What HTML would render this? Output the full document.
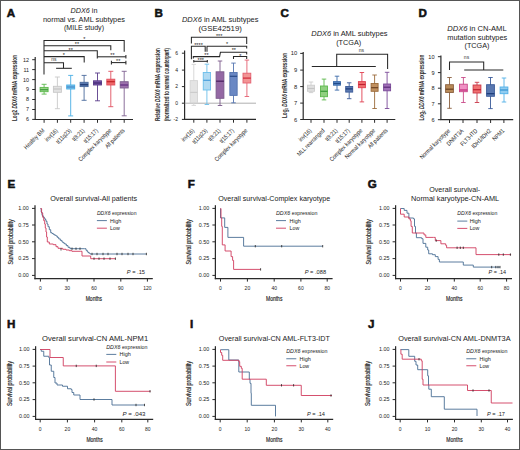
<!DOCTYPE html><html><head><meta charset="utf-8"><style>html,body{margin:0;padding:0;background:#fff;}svg{display:block;}text{font-family:"Liberation Sans", sans-serif;}</style></head><body>
<svg width="520" height="450" viewBox="0 0 520 450">
<rect x="0" y="0" width="520" height="450" fill="#fff"/>
<text x="6.7" y="17.0" font-size="11.6" text-anchor="start" font-weight="bold" font-style="normal" fill="#111" stroke="#111" stroke-width="0.55">A</text>
<text x="84" y="13.0" font-size="8.0" text-anchor="middle" fill="#222" textLength="26.9" lengthAdjust="spacingAndGlyphs"><tspan font-style="italic">DDX6</tspan> in</text>
<text x="84" y="21.8" font-size="8.0" text-anchor="middle" font-weight="normal" font-style="normal" fill="#222" textLength="82" lengthAdjust="spacingAndGlyphs" >normal vs. AML subtypes</text>
<text x="84" y="30.1" font-size="8.0" text-anchor="middle" font-weight="normal" font-style="normal" fill="#222" textLength="40" lengthAdjust="spacingAndGlyphs" >(MILE study)</text>
<line x1="35.2" y1="57" x2="35.2" y2="119.5" stroke="#2a2a2a" stroke-width="1.2"/>
<line x1="34.7" y1="119.5" x2="133" y2="119.5" stroke="#2a2a2a" stroke-width="1.2"/>
<line x1="32.2" y1="59.7" x2="35.2" y2="59.7" stroke="#2a2a2a" stroke-width="1"/>
<text x="29" y="61.6" font-size="5.4" text-anchor="end" font-weight="normal" font-style="normal" fill="#222" >12</text>
<line x1="32.2" y1="69.6" x2="35.2" y2="69.6" stroke="#2a2a2a" stroke-width="1"/>
<text x="29" y="71.5" font-size="5.4" text-anchor="end" font-weight="normal" font-style="normal" fill="#222" >11</text>
<line x1="32.2" y1="79.6" x2="35.2" y2="79.6" stroke="#2a2a2a" stroke-width="1"/>
<text x="29" y="81.5" font-size="5.4" text-anchor="end" font-weight="normal" font-style="normal" fill="#222" >10</text>
<line x1="32.2" y1="89.5" x2="35.2" y2="89.5" stroke="#2a2a2a" stroke-width="1"/>
<text x="29" y="91.4" font-size="5.4" text-anchor="end" font-weight="normal" font-style="normal" fill="#222" >9</text>
<line x1="32.2" y1="99.5" x2="35.2" y2="99.5" stroke="#2a2a2a" stroke-width="1"/>
<text x="29" y="101.4" font-size="5.4" text-anchor="end" font-weight="normal" font-style="normal" fill="#222" >8</text>
<line x1="32.2" y1="109.5" x2="35.2" y2="109.5" stroke="#2a2a2a" stroke-width="1"/>
<text x="29" y="111.4" font-size="5.4" text-anchor="end" font-weight="normal" font-style="normal" fill="#222" >7</text>
<line x1="32.2" y1="119.4" x2="35.2" y2="119.4" stroke="#2a2a2a" stroke-width="1"/>
<text x="29" y="121.30000000000001" font-size="5.4" text-anchor="end" font-weight="normal" font-style="normal" fill="#222" >6</text>
<text x="0" y="0" transform="translate(17.4,88) rotate(-90)" font-size="6.9" text-anchor="middle" font-weight="bold" fill="#2a2a2a" textLength="66" lengthAdjust="spacingAndGlyphs">Log2 <tspan font-style="italic">DDX6</tspan> mRNA expression</text>
<line x1="44.1" y1="119.5" x2="44.1" y2="122.8" stroke="#2a2a2a" stroke-width="1"/>
<line x1="57.4" y1="119.5" x2="57.4" y2="122.8" stroke="#2a2a2a" stroke-width="1"/>
<line x1="70.7" y1="119.5" x2="70.7" y2="122.8" stroke="#2a2a2a" stroke-width="1"/>
<line x1="84.1" y1="119.5" x2="84.1" y2="122.8" stroke="#2a2a2a" stroke-width="1"/>
<line x1="97.5" y1="119.5" x2="97.5" y2="122.8" stroke="#2a2a2a" stroke-width="1"/>
<line x1="110.8" y1="119.5" x2="110.8" y2="122.8" stroke="#2a2a2a" stroke-width="1"/>
<line x1="124.2" y1="119.5" x2="124.2" y2="122.8" stroke="#2a2a2a" stroke-width="1"/>
<text x="0" y="0" transform="translate(45.0,131.0) rotate(-45)" font-size="6.1" text-anchor="end" fill="#222" textLength="26.36" lengthAdjust="spacingAndGlyphs">Healthy BM</text>
<text x="0" y="0" transform="translate(58.3,131.0) rotate(-45)" font-size="6.1" text-anchor="end" fill="#222" textLength="15.59" lengthAdjust="spacingAndGlyphs">inv(16)</text>
<text x="0" y="0" transform="translate(71.60000000000001,131.0) rotate(-45)" font-size="6.1" text-anchor="end" fill="#222" textLength="18.61" lengthAdjust="spacingAndGlyphs">t(11q23)</text>
<text x="0" y="0" transform="translate(85.0,131.0) rotate(-45)" font-size="6.1" text-anchor="end" fill="#222" textLength="14.74" lengthAdjust="spacingAndGlyphs">t(8;21)</text>
<text x="0" y="0" transform="translate(98.4,131.0) rotate(-45)" font-size="6.1" text-anchor="end" fill="#222" textLength="17.57" lengthAdjust="spacingAndGlyphs">t(15;17)</text>
<text x="0" y="0" transform="translate(111.7,131.0) rotate(-45)" font-size="6.1" text-anchor="end" fill="#222" textLength="43.65" lengthAdjust="spacingAndGlyphs">Complex karyotype</text>
<text x="0" y="0" transform="translate(125.10000000000001,131.0) rotate(-45)" font-size="6.1" text-anchor="end" fill="#222" textLength="24.95" lengthAdjust="spacingAndGlyphs">All patients</text>
<line x1="44.1" y1="84.3" x2="44.1" y2="94.1" stroke="#5cb84c" stroke-width="0.9"/>
<line x1="41.6" y1="84.3" x2="46.6" y2="84.3" stroke="#5cb84c" stroke-width="0.9"/>
<line x1="41.6" y1="94.1" x2="46.6" y2="94.1" stroke="#5cb84c" stroke-width="0.9"/>
<rect x="40.1" y="87.4" width="8" height="4.299999999999997" fill="#98d488" stroke="#5cb84c" stroke-width="0.9"/>
<line x1="40.1" y1="89.7" x2="48.1" y2="89.7" stroke="#3a9a3a" stroke-width="1.2"/>
<line x1="57.4" y1="77" x2="57.4" y2="108.7" stroke="#c8c8c8" stroke-width="0.9"/>
<line x1="54.9" y1="77" x2="59.9" y2="77" stroke="#c8c8c8" stroke-width="0.9"/>
<line x1="54.9" y1="108.7" x2="59.9" y2="108.7" stroke="#c8c8c8" stroke-width="0.9"/>
<rect x="53.4" y="86.3" width="8" height="6.0" fill="#e2e2e2" stroke="#c8c8c8" stroke-width="0.9"/>
<line x1="53.4" y1="89" x2="61.4" y2="89" stroke="#c4c4c4" stroke-width="1.2"/>
<line x1="70.7" y1="75.4" x2="70.7" y2="115.9" stroke="#48aee4" stroke-width="0.9"/>
<line x1="68.2" y1="75.4" x2="73.2" y2="75.4" stroke="#48aee4" stroke-width="0.9"/>
<line x1="68.2" y1="115.9" x2="73.2" y2="115.9" stroke="#48aee4" stroke-width="0.9"/>
<rect x="66.7" y="85" width="8" height="4" fill="#80c4ec" stroke="#48aee4" stroke-width="0.9"/>
<line x1="66.7" y1="87" x2="74.7" y2="87" stroke="#3f86c8" stroke-width="1.2"/>
<line x1="84.1" y1="75.4" x2="84.1" y2="100.3" stroke="#4a6a9c" stroke-width="0.9"/>
<line x1="81.6" y1="75.4" x2="86.6" y2="75.4" stroke="#4a6a9c" stroke-width="0.9"/>
<line x1="81.6" y1="100.3" x2="86.6" y2="100.3" stroke="#4a6a9c" stroke-width="0.9"/>
<rect x="80.1" y="82.3" width="8" height="4.299999999999997" fill="#5878b0" stroke="#4a6a9c" stroke-width="0.9"/>
<line x1="80.1" y1="84.7" x2="88.1" y2="84.7" stroke="#203a72" stroke-width="1.2"/>
<line x1="97.5" y1="73" x2="97.5" y2="100.8" stroke="#5a3c8a" stroke-width="0.9"/>
<line x1="95.0" y1="73" x2="100.0" y2="73" stroke="#5a3c8a" stroke-width="0.9"/>
<line x1="95.0" y1="100.8" x2="100.0" y2="100.8" stroke="#5a3c8a" stroke-width="0.9"/>
<rect x="93.5" y="80.8" width="8" height="4.200000000000003" fill="#7858a8" stroke="#5a3c8a" stroke-width="0.9"/>
<line x1="93.5" y1="83" x2="101.5" y2="83" stroke="#3e2670" stroke-width="1.2"/>
<line x1="110.8" y1="71.3" x2="110.8" y2="106.7" stroke="#e05060" stroke-width="0.9"/>
<line x1="108.3" y1="71.3" x2="113.3" y2="71.3" stroke="#e05060" stroke-width="0.9"/>
<line x1="108.3" y1="106.7" x2="113.3" y2="106.7" stroke="#e05060" stroke-width="0.9"/>
<rect x="106.8" y="79.2" width="8" height="5.799999999999997" fill="#f06868" stroke="#e05060" stroke-width="0.9"/>
<line x1="106.8" y1="81.7" x2="114.8" y2="81.7" stroke="#c02428" stroke-width="1.2"/>
<line x1="124.2" y1="71.3" x2="124.2" y2="115.8" stroke="#7e6090" stroke-width="0.9"/>
<line x1="121.7" y1="71.3" x2="126.7" y2="71.3" stroke="#7e6090" stroke-width="0.9"/>
<line x1="121.7" y1="115.8" x2="126.7" y2="115.8" stroke="#7e6090" stroke-width="0.9"/>
<rect x="120.2" y="81.7" width="8" height="6.299999999999997" fill="#9c70ac" stroke="#7e6090" stroke-width="0.9"/>
<line x1="120.2" y1="85" x2="128.2" y2="85" stroke="#5e2a80" stroke-width="1.2"/>
<line x1="44" y1="40" x2="44" y2="74.4" stroke="#282828" stroke-width="1.05"/>
<polyline points="44.00,40.50 124.20,40.50 124.20,51.80" fill="none" stroke="#282828" stroke-width="1.05"/>
<polyline points="44.00,45.70 110.80,45.70 110.80,50.30" fill="none" stroke="#282828" stroke-width="1.05"/>
<polyline points="44.00,50.80 97.30,50.80 97.30,58.50" fill="none" stroke="#282828" stroke-width="1.05"/>
<polyline points="44.00,56.60 84.20,56.60 84.20,62.40" fill="none" stroke="#282828" stroke-width="1.05"/>
<polyline points="44.00,62.70 63.50,62.70 63.50,68.30" fill="none" stroke="#282828" stroke-width="1.05"/>
<line x1="56.1" y1="68.3" x2="71.8" y2="68.3" stroke="#282828" stroke-width="1.05"/>
<line x1="97.3" y1="56.8" x2="125.9" y2="56.8" stroke="#282828" stroke-width="1.05"/>
<line x1="125.9" y1="55" x2="125.9" y2="58.6" stroke="#282828" stroke-width="1.05"/>
<line x1="111.4" y1="62.6" x2="125.9" y2="62.6" stroke="#282828" stroke-width="1.05"/>
<line x1="111.4" y1="60.8" x2="111.4" y2="64.4" stroke="#282828" stroke-width="1.05"/>
<line x1="125.9" y1="60.8" x2="125.9" y2="64.4" stroke="#282828" stroke-width="1.05"/>
<text x="84.2" y="40.99" font-size="5.5" text-anchor="middle" font-weight="normal" font-style="normal" fill="#222" >*</text>
<text x="77" y="46.29" font-size="5.5" text-anchor="middle" font-weight="normal" font-style="normal" fill="#222" >**</text>
<text x="70.7" y="51.59" font-size="5.5" text-anchor="middle" font-weight="normal" font-style="normal" fill="#222" >**</text>
<text x="63.8" y="57.19" font-size="5.5" text-anchor="middle" font-weight="normal" font-style="normal" fill="#222" >*</text>
<text x="53.9" y="61.1" font-size="5" text-anchor="middle" font-weight="normal" font-style="normal" fill="#333" >ns</text>
<text x="112.4" y="57.19" font-size="5.5" text-anchor="middle" font-weight="normal" font-style="normal" fill="#222" >**</text>
<text x="118.2" y="62.99" font-size="5.5" text-anchor="middle" font-weight="normal" font-style="normal" fill="#222" >**</text>
<text x="154.6" y="17.0" font-size="11.6" text-anchor="start" font-weight="bold" font-style="normal" fill="#111" stroke="#111" stroke-width="0.55">B</text>
<text x="181.9" y="21.8" font-size="8.0" fill="#222" textLength="76.6" lengthAdjust="spacingAndGlyphs"><tspan font-style="italic">DDX6</tspan> in AML subtypes</text>
<text x="220.2" y="30.6" font-size="8.0" text-anchor="middle" font-weight="normal" font-style="normal" fill="#222" textLength="43.4" lengthAdjust="spacingAndGlyphs" >(GSE42519)</text>
<line x1="184.6" y1="50.4" x2="184.6" y2="119.4" stroke="#2a2a2a" stroke-width="1.2"/>
<line x1="184.1" y1="119.4" x2="256" y2="119.4" stroke="#2a2a2a" stroke-width="1.2"/>
<line x1="184.6" y1="103.2" x2="256" y2="103.2" stroke="#9a9a9a" stroke-width="0.8"/>
<line x1="181.9" y1="53.2" x2="184.6" y2="53.2" stroke="#2a2a2a" stroke-width="1"/>
<text x="178" y="55.0" font-size="5" text-anchor="end" font-weight="normal" font-style="normal" fill="#222" >6</text>
<line x1="181.9" y1="70.1" x2="184.6" y2="70.1" stroke="#2a2a2a" stroke-width="1"/>
<text x="178" y="71.89999999999999" font-size="5" text-anchor="end" font-weight="normal" font-style="normal" fill="#222" >4</text>
<line x1="181.9" y1="86.6" x2="184.6" y2="86.6" stroke="#2a2a2a" stroke-width="1"/>
<text x="178" y="88.39999999999999" font-size="5" text-anchor="end" font-weight="normal" font-style="normal" fill="#222" >2</text>
<line x1="181.9" y1="103.2" x2="184.6" y2="103.2" stroke="#2a2a2a" stroke-width="1"/>
<text x="178" y="105.0" font-size="5" text-anchor="end" font-weight="normal" font-style="normal" fill="#222" >0</text>
<line x1="181.9" y1="119.4" x2="184.6" y2="119.4" stroke="#2a2a2a" stroke-width="1"/>
<text x="178" y="121.2" font-size="5" text-anchor="end" font-weight="normal" font-style="normal" fill="#222" >-2</text>
<text x="0" y="0" transform="translate(159.6,84.6) rotate(-90)" font-size="6.7" text-anchor="middle" font-weight="bold" fill="#2a2a2a" textLength="73" lengthAdjust="spacingAndGlyphs">Relative <tspan font-style="italic">DDX6</tspan> mRNA expression</text>
<text x="0" y="0" transform="translate(169.4,84.6) rotate(-90)" font-size="6.7" text-anchor="middle" font-weight="bold" fill="#2a2a2a" textLength="73" lengthAdjust="spacingAndGlyphs">(normalized to normal counterpart)</text>
<line x1="193.8" y1="119.4" x2="193.8" y2="122.7" stroke="#2a2a2a" stroke-width="1"/>
<line x1="206.9" y1="119.4" x2="206.9" y2="122.7" stroke="#2a2a2a" stroke-width="1"/>
<line x1="220" y1="119.4" x2="220" y2="122.7" stroke="#2a2a2a" stroke-width="1"/>
<line x1="233.5" y1="119.4" x2="233.5" y2="122.7" stroke="#2a2a2a" stroke-width="1"/>
<line x1="246.9" y1="119.4" x2="246.9" y2="122.7" stroke="#2a2a2a" stroke-width="1"/>
<text x="0" y="0" transform="translate(194.70000000000002,131.0) rotate(-45)" font-size="6.1" text-anchor="end" fill="#222" textLength="15.59" lengthAdjust="spacingAndGlyphs">inv(16)</text>
<text x="0" y="0" transform="translate(207.8,131.0) rotate(-45)" font-size="6.1" text-anchor="end" fill="#222" textLength="18.61" lengthAdjust="spacingAndGlyphs">t(11q23)</text>
<text x="0" y="0" transform="translate(220.9,131.0) rotate(-45)" font-size="6.1" text-anchor="end" fill="#222" textLength="14.74" lengthAdjust="spacingAndGlyphs">t(8;21)</text>
<text x="0" y="0" transform="translate(234.4,131.0) rotate(-45)" font-size="6.1" text-anchor="end" fill="#222" textLength="17.57" lengthAdjust="spacingAndGlyphs">t(15;17)</text>
<text x="0" y="0" transform="translate(247.8,131.0) rotate(-45)" font-size="6.1" text-anchor="end" fill="#222" textLength="43.65" lengthAdjust="spacingAndGlyphs">Complex karyotype</text>
<line x1="193.8" y1="64.4" x2="193.8" y2="105.4" stroke="#d4d4d4" stroke-width="0.9"/>
<line x1="191.55" y1="64.4" x2="196.05" y2="64.4" stroke="#d4d4d4" stroke-width="0.9"/>
<line x1="191.55" y1="105.4" x2="196.05" y2="105.4" stroke="#d4d4d4" stroke-width="0.9"/>
<rect x="190.15" y="80.6" width="7.3" height="22.200000000000003" fill="#e4e4e4" stroke="#d4d4d4" stroke-width="0.9"/>
<line x1="190.15" y1="92.4" x2="197.45000000000002" y2="92.4" stroke="#cccccc" stroke-width="1.2"/>
<line x1="206.9" y1="64.2" x2="206.9" y2="104.5" stroke="#6cbeea" stroke-width="0.9"/>
<line x1="204.65" y1="64.2" x2="209.15" y2="64.2" stroke="#6cbeea" stroke-width="0.9"/>
<line x1="204.65" y1="104.5" x2="209.15" y2="104.5" stroke="#6cbeea" stroke-width="0.9"/>
<rect x="203.25" y="72.5" width="7.3" height="17.5" fill="#b0daf2" stroke="#6cbeea" stroke-width="0.9"/>
<line x1="203.25" y1="80.3" x2="210.55" y2="80.3" stroke="#4aa0dc" stroke-width="1.2"/>
<line x1="220" y1="61" x2="220" y2="105.5" stroke="#7a5a8a" stroke-width="0.9"/>
<line x1="217.75" y1="61" x2="222.25" y2="61" stroke="#7a5a8a" stroke-width="0.9"/>
<line x1="217.75" y1="105.5" x2="222.25" y2="105.5" stroke="#7a5a8a" stroke-width="0.9"/>
<rect x="216.1" y="71.8" width="7.8" height="26.5" fill="#9468a4" stroke="#7a5a8a" stroke-width="0.9"/>
<line x1="216.1" y1="81.2" x2="223.9" y2="81.2" stroke="#4a2060" stroke-width="1.2"/>
<line x1="233.5" y1="63.1" x2="233.5" y2="102.8" stroke="#5474b0" stroke-width="0.9"/>
<line x1="231.25" y1="63.1" x2="235.75" y2="63.1" stroke="#5474b0" stroke-width="0.9"/>
<line x1="231.25" y1="102.8" x2="235.75" y2="102.8" stroke="#5474b0" stroke-width="0.9"/>
<rect x="229.85" y="72.5" width="7.3" height="22.900000000000006" fill="#6a88c4" stroke="#5474b0" stroke-width="0.9"/>
<line x1="229.85" y1="76.3" x2="237.15" y2="76.3" stroke="#2a4a88" stroke-width="1.2"/>
<line x1="246.9" y1="60.1" x2="246.9" y2="96.5" stroke="#e46070" stroke-width="0.9"/>
<line x1="244.65" y1="60.1" x2="249.15" y2="60.1" stroke="#e46070" stroke-width="0.9"/>
<line x1="244.65" y1="96.5" x2="249.15" y2="96.5" stroke="#e46070" stroke-width="0.9"/>
<rect x="243.0" y="73.2" width="7.8" height="9.799999999999997" fill="#f29494" stroke="#e46070" stroke-width="0.9"/>
<line x1="243.0" y1="78.1" x2="250.8" y2="78.1" stroke="#d02838" stroke-width="1.2"/>
<polyline points="246.70,44.00 246.70,37.30 191.40,37.30 191.40,43.50" fill="none" stroke="#282828" stroke-width="1.05"/>
<polyline points="191.40,59.30 191.40,46.20 205.20,46.20 205.20,51.80" fill="none" stroke="#282828" stroke-width="1.05"/>
<polyline points="207.00,51.80 207.00,46.20 246.70,46.20 246.70,48.50" fill="none" stroke="#282828" stroke-width="1.05"/>
<polyline points="193.30,58.60 193.30,56.60 219.60,56.60 220.40,52.30 246.70,52.30 246.70,54.50" fill="none" stroke="#282828" stroke-width="1.05"/>
<polyline points="233.50,59.00 233.50,56.50 246.70,56.50 246.70,59.00" fill="none" stroke="#282828" stroke-width="1.05"/>
<line x1="193.8" y1="61.3" x2="207.3" y2="61.3" stroke="#282828" stroke-width="1.05"/>
<line x1="193.8" y1="60" x2="193.8" y2="62.6" stroke="#282828" stroke-width="1.05"/>
<line x1="207.3" y1="60" x2="207.3" y2="62.6" stroke="#282828" stroke-width="1.05"/>
<text x="219.2" y="37.79" font-size="5.5" text-anchor="middle" font-weight="normal" font-style="normal" fill="#222" >***</text>
<text x="198.5" y="46.59" font-size="5.5" text-anchor="middle" font-weight="normal" font-style="normal" fill="#222" >****</text>
<text x="227" y="46.49" font-size="5.5" text-anchor="middle" font-weight="normal" font-style="normal" fill="#222" >*</text>
<text x="206.5" y="57.49" font-size="5.5" text-anchor="middle" font-weight="normal" font-style="normal" fill="#222" >**</text>
<text x="233.8" y="52.49" font-size="5.5" text-anchor="middle" font-weight="normal" font-style="normal" fill="#222" >**</text>
<text x="240.4" y="57.69" font-size="5.5" text-anchor="middle" font-weight="normal" font-style="normal" fill="#222" >*</text>
<text x="200.8" y="62.39" font-size="5.5" text-anchor="middle" font-weight="normal" font-style="normal" fill="#222" >***</text>
<text x="280.6" y="17.0" font-size="11.6" text-anchor="start" font-weight="bold" font-style="normal" fill="#111" stroke="#111" stroke-width="0.55">C</text>
<text x="311.3" y="36.2" font-size="8.0" fill="#222" textLength="76.2" lengthAdjust="spacingAndGlyphs"><tspan font-style="italic">DDX6</tspan> in AML subtypes</text>
<text x="348.7" y="44.9" font-size="8.0" text-anchor="middle" font-weight="normal" font-style="normal" fill="#222" textLength="25" lengthAdjust="spacingAndGlyphs" >(TCGA)</text>
<line x1="303.2" y1="52" x2="303.2" y2="119.5" stroke="#2a2a2a" stroke-width="1.2"/>
<line x1="302.7" y1="119.5" x2="395.3" y2="119.5" stroke="#2a2a2a" stroke-width="1.2"/>
<line x1="300.2" y1="53.4" x2="303.2" y2="53.4" stroke="#2a2a2a" stroke-width="1"/>
<text x="297.3" y="55.4" font-size="5.8" text-anchor="end" font-weight="normal" font-style="normal" fill="#222" >10</text>
<line x1="300.2" y1="70.1" x2="303.2" y2="70.1" stroke="#2a2a2a" stroke-width="1"/>
<text x="297.3" y="72.1" font-size="5.8" text-anchor="end" font-weight="normal" font-style="normal" fill="#222" >9</text>
<line x1="300.2" y1="86.6" x2="303.2" y2="86.6" stroke="#2a2a2a" stroke-width="1"/>
<text x="297.3" y="88.6" font-size="5.8" text-anchor="end" font-weight="normal" font-style="normal" fill="#222" >8</text>
<line x1="300.2" y1="103.1" x2="303.2" y2="103.1" stroke="#2a2a2a" stroke-width="1"/>
<text x="297.3" y="105.1" font-size="5.8" text-anchor="end" font-weight="normal" font-style="normal" fill="#222" >7</text>
<line x1="300.2" y1="119.5" x2="303.2" y2="119.5" stroke="#2a2a2a" stroke-width="1"/>
<text x="297.3" y="121.5" font-size="5.8" text-anchor="end" font-weight="normal" font-style="normal" fill="#222" >6</text>
<text x="0" y="0" transform="translate(286.6,85.5) rotate(-90)" font-size="6.9" text-anchor="middle" font-weight="bold" fill="#2a2a2a" textLength="65" lengthAdjust="spacingAndGlyphs">Log<tspan font-size="4" dy="1.2">2</tspan><tspan dy="-1.2"> </tspan><tspan font-style="italic">DDX6</tspan> mRNA expression</text>
<line x1="311" y1="119.5" x2="311" y2="122.8" stroke="#2a2a2a" stroke-width="1"/>
<line x1="324" y1="119.5" x2="324" y2="122.8" stroke="#2a2a2a" stroke-width="1"/>
<line x1="337" y1="119.5" x2="337" y2="122.8" stroke="#2a2a2a" stroke-width="1"/>
<line x1="349.2" y1="119.5" x2="349.2" y2="122.8" stroke="#2a2a2a" stroke-width="1"/>
<line x1="361.9" y1="119.5" x2="361.9" y2="122.8" stroke="#2a2a2a" stroke-width="1"/>
<line x1="374.6" y1="119.5" x2="374.6" y2="122.8" stroke="#2a2a2a" stroke-width="1"/>
<line x1="387.1" y1="119.5" x2="387.1" y2="122.8" stroke="#2a2a2a" stroke-width="1"/>
<text x="0" y="0" transform="translate(311.9,131.0) rotate(-45)" font-size="6.1" text-anchor="end" fill="#222" textLength="15.59" lengthAdjust="spacingAndGlyphs">inv(16)</text>
<text x="0" y="0" transform="translate(324.9,131.0) rotate(-45)" font-size="6.1" text-anchor="end" fill="#222" textLength="36.1" lengthAdjust="spacingAndGlyphs">MLL rearranged</text>
<text x="0" y="0" transform="translate(337.9,131.0) rotate(-45)" font-size="6.1" text-anchor="end" fill="#222" textLength="14.74" lengthAdjust="spacingAndGlyphs">t(8;21)</text>
<text x="0" y="0" transform="translate(350.09999999999997,131.0) rotate(-45)" font-size="6.1" text-anchor="end" fill="#222" textLength="17.57" lengthAdjust="spacingAndGlyphs">t(15;17)</text>
<text x="0" y="0" transform="translate(362.79999999999995,131.0) rotate(-45)" font-size="6.1" text-anchor="end" fill="#222" textLength="43.65" lengthAdjust="spacingAndGlyphs">Complex karyotype</text>
<text x="0" y="0" transform="translate(375.5,131.0) rotate(-45)" font-size="6.1" text-anchor="end" fill="#222" textLength="39.96" lengthAdjust="spacingAndGlyphs">Normal karyotype</text>
<text x="0" y="0" transform="translate(388.0,131.0) rotate(-45)" font-size="6.1" text-anchor="end" fill="#222" textLength="24.95" lengthAdjust="spacingAndGlyphs">All patients</text>
<line x1="311" y1="82" x2="311" y2="92.6" stroke="#cdcdcd" stroke-width="0.9"/>
<line x1="308.75" y1="82" x2="313.25" y2="82" stroke="#cdcdcd" stroke-width="0.9"/>
<line x1="308.75" y1="92.6" x2="313.25" y2="92.6" stroke="#cdcdcd" stroke-width="0.9"/>
<rect x="307.5" y="85.2" width="7" height="6.099999999999994" fill="#e0e0e0" stroke="#cdcdcd" stroke-width="0.9"/>
<line x1="307.5" y1="88.5" x2="314.5" y2="88.5" stroke="#c4c4c4" stroke-width="1.2"/>
<line x1="324" y1="79.1" x2="324" y2="99.9" stroke="#5cb84c" stroke-width="0.9"/>
<line x1="321.75" y1="79.1" x2="326.25" y2="79.1" stroke="#5cb84c" stroke-width="0.9"/>
<line x1="321.75" y1="99.9" x2="326.25" y2="99.9" stroke="#5cb84c" stroke-width="0.9"/>
<rect x="320.5" y="86" width="7" height="10.700000000000003" fill="#90d080" stroke="#5cb84c" stroke-width="0.9"/>
<line x1="320.5" y1="91.3" x2="327.5" y2="91.3" stroke="#3a9a3a" stroke-width="1.2"/>
<line x1="337" y1="76.2" x2="337" y2="90.1" stroke="#3a6aa8" stroke-width="0.9"/>
<line x1="334.75" y1="76.2" x2="339.25" y2="76.2" stroke="#3a6aa8" stroke-width="0.9"/>
<line x1="334.75" y1="90.1" x2="339.25" y2="90.1" stroke="#3a6aa8" stroke-width="0.9"/>
<rect x="333.5" y="81.6" width="7" height="3.6000000000000085" fill="#5a88c8" stroke="#3a6aa8" stroke-width="0.9"/>
<line x1="333.5" y1="83.5" x2="340.5" y2="83.5" stroke="#204a88" stroke-width="1.2"/>
<line x1="349.2" y1="82.8" x2="349.2" y2="98.7" stroke="#3a5a98" stroke-width="0.9"/>
<line x1="346.95" y1="82.8" x2="351.45" y2="82.8" stroke="#3a5a98" stroke-width="0.9"/>
<line x1="346.95" y1="98.7" x2="351.45" y2="98.7" stroke="#3a5a98" stroke-width="0.9"/>
<rect x="345.7" y="86.5" width="7" height="5.599999999999994" fill="#5a78b0" stroke="#3a5a98" stroke-width="0.9"/>
<line x1="345.7" y1="88.9" x2="352.7" y2="88.9" stroke="#1a3a78" stroke-width="1.2"/>
<line x1="361.9" y1="72.5" x2="361.9" y2="101.9" stroke="#e04050" stroke-width="0.9"/>
<line x1="359.65" y1="72.5" x2="364.15" y2="72.5" stroke="#e04050" stroke-width="0.9"/>
<line x1="359.65" y1="101.9" x2="364.15" y2="101.9" stroke="#e04050" stroke-width="0.9"/>
<rect x="358.4" y="81.6" width="7" height="6.1000000000000085" fill="#f07070" stroke="#e04050" stroke-width="0.9"/>
<line x1="358.4" y1="84.5" x2="365.4" y2="84.5" stroke="#c02030" stroke-width="1.2"/>
<line x1="374.6" y1="75" x2="374.6" y2="108.5" stroke="#9a6a3a" stroke-width="0.9"/>
<line x1="372.35" y1="75" x2="376.85" y2="75" stroke="#9a6a3a" stroke-width="0.9"/>
<line x1="372.35" y1="108.5" x2="376.85" y2="108.5" stroke="#9a6a3a" stroke-width="0.9"/>
<rect x="371.1" y="83.5" width="7" height="7.799999999999997" fill="#c09060" stroke="#9a6a3a" stroke-width="0.9"/>
<line x1="371.1" y1="87.7" x2="378.1" y2="87.7" stroke="#6a4020" stroke-width="1.2"/>
<line x1="387.1" y1="72.3" x2="387.1" y2="108.5" stroke="#7a4a98" stroke-width="0.9"/>
<line x1="384.85" y1="72.3" x2="389.35" y2="72.3" stroke="#7a4a98" stroke-width="0.9"/>
<line x1="384.85" y1="108.5" x2="389.35" y2="108.5" stroke="#7a4a98" stroke-width="0.9"/>
<rect x="383.6" y="84" width="7" height="6.799999999999997" fill="#a070b8" stroke="#7a4a98" stroke-width="0.9"/>
<line x1="383.6" y1="87.2" x2="390.6" y2="87.2" stroke="#5a2a78" stroke-width="1.2"/>
<polyline points="336.70,66.50 336.70,54.20 387.60,54.20 387.60,68.90" fill="none" stroke="#282828" stroke-width="1.05"/>
<line x1="311.8" y1="66.5" x2="375.8" y2="66.5" stroke="#282828" stroke-width="1.05"/>
<text x="361.3" y="51.6" font-size="5" text-anchor="middle" font-weight="normal" font-style="normal" fill="#333" >ns</text>
<text x="418.5" y="17.2" font-size="11.6" text-anchor="start" font-weight="bold" font-style="normal" fill="#111" stroke="#111" stroke-width="0.55">D</text>
<text x="447.3" y="31.1" font-size="8.0" fill="#222" textLength="59.3" lengthAdjust="spacingAndGlyphs"><tspan font-style="italic">DDX6</tspan> in CN-AML</text>
<text x="477.3" y="39.6" font-size="8.0" text-anchor="middle" font-weight="normal" font-style="normal" fill="#222" textLength="60" lengthAdjust="spacingAndGlyphs" >mutation subtypes</text>
<text x="477" y="47.9" font-size="8.0" text-anchor="middle" font-weight="normal" font-style="normal" fill="#222" textLength="25" lengthAdjust="spacingAndGlyphs" >(TCGA)</text>
<line x1="440.9" y1="55.5" x2="440.9" y2="119.7" stroke="#2a2a2a" stroke-width="1.2"/>
<line x1="440.4" y1="119.7" x2="513.2" y2="119.7" stroke="#2a2a2a" stroke-width="1.2"/>
<line x1="437.9" y1="56.7" x2="440.9" y2="56.7" stroke="#2a2a2a" stroke-width="1"/>
<text x="434.5" y="58.7" font-size="5.6" text-anchor="end" font-weight="normal" font-style="normal" fill="#222" >10</text>
<line x1="437.9" y1="72.6" x2="440.9" y2="72.6" stroke="#2a2a2a" stroke-width="1"/>
<text x="434.5" y="74.6" font-size="5.6" text-anchor="end" font-weight="normal" font-style="normal" fill="#222" >9</text>
<line x1="437.9" y1="88.2" x2="440.9" y2="88.2" stroke="#2a2a2a" stroke-width="1"/>
<text x="434.5" y="90.2" font-size="5.6" text-anchor="end" font-weight="normal" font-style="normal" fill="#222" >8</text>
<line x1="437.9" y1="103.8" x2="440.9" y2="103.8" stroke="#2a2a2a" stroke-width="1"/>
<text x="434.5" y="105.8" font-size="5.6" text-anchor="end" font-weight="normal" font-style="normal" fill="#222" >7</text>
<line x1="437.9" y1="119.7" x2="440.9" y2="119.7" stroke="#2a2a2a" stroke-width="1"/>
<text x="434.5" y="121.7" font-size="5.6" text-anchor="end" font-weight="normal" font-style="normal" fill="#222" >6</text>
<text x="0" y="0" transform="translate(423.6,87.6) rotate(-90)" font-size="6.9" text-anchor="middle" font-weight="bold" fill="#2a2a2a" textLength="66" lengthAdjust="spacingAndGlyphs">Log<tspan font-size="4" dy="1.2">2</tspan><tspan dy="-1.2"> </tspan><tspan font-style="italic">DDX6</tspan> mRNA expression</text>
<line x1="449.5" y1="119.7" x2="449.5" y2="123" stroke="#2a2a2a" stroke-width="1"/>
<line x1="463" y1="119.7" x2="463" y2="123" stroke="#2a2a2a" stroke-width="1"/>
<line x1="477" y1="119.7" x2="477" y2="123" stroke="#2a2a2a" stroke-width="1"/>
<line x1="490.6" y1="119.7" x2="490.6" y2="123" stroke="#2a2a2a" stroke-width="1"/>
<line x1="503.9" y1="119.7" x2="503.9" y2="123" stroke="#2a2a2a" stroke-width="1"/>
<text x="0" y="0" transform="translate(450.4,131.3) rotate(-45)" font-size="6.1" text-anchor="end" fill="#222" textLength="39.96" lengthAdjust="spacingAndGlyphs">Normal karyotype</text>
<text x="0" y="0" transform="translate(463.9,131.3) rotate(-45)" font-size="6.1" text-anchor="end" fill="#222" textLength="20.97" lengthAdjust="spacingAndGlyphs">DNMT3A</text>
<text x="0" y="0" transform="translate(477.9,131.3) rotate(-45)" font-size="6.1" text-anchor="end" fill="#222" textLength="21.44" lengthAdjust="spacingAndGlyphs">FLT3-ITD</text>
<text x="0" y="0" transform="translate(491.5,131.3) rotate(-45)" font-size="6.1" text-anchor="end" fill="#222" textLength="24.66" lengthAdjust="spacingAndGlyphs">IDH1/IDH2</text>
<text x="0" y="0" transform="translate(504.79999999999995,131.3) rotate(-45)" font-size="6.1" text-anchor="end" fill="#222" textLength="14.17" lengthAdjust="spacingAndGlyphs">NPM1</text>
<line x1="449.5" y1="77.5" x2="449.5" y2="108.3" stroke="#8a6040" stroke-width="0.9"/>
<line x1="447.25" y1="77.5" x2="451.75" y2="77.5" stroke="#8a6040" stroke-width="0.9"/>
<line x1="447.25" y1="108.3" x2="451.75" y2="108.3" stroke="#8a6040" stroke-width="0.9"/>
<rect x="445.6" y="84.7" width="7.8" height="7.799999999999997" fill="#b88a58" stroke="#8a6040" stroke-width="0.9"/>
<line x1="445.6" y1="89.2" x2="453.4" y2="89.2" stroke="#6a4020" stroke-width="1.2"/>
<line x1="463.4" y1="77.5" x2="463.4" y2="102.5" stroke="#c84888" stroke-width="0.9"/>
<line x1="461.15" y1="77.5" x2="465.65" y2="77.5" stroke="#c84888" stroke-width="0.9"/>
<line x1="461.15" y1="102.5" x2="465.65" y2="102.5" stroke="#c84888" stroke-width="0.9"/>
<rect x="459.5" y="84.2" width="7.8" height="7.5" fill="#f090c4" stroke="#c84888" stroke-width="0.9"/>
<line x1="459.5" y1="90" x2="467.29999999999995" y2="90" stroke="#c02878" stroke-width="1.2"/>
<line x1="477" y1="82.3" x2="477" y2="102.5" stroke="#c83848" stroke-width="0.9"/>
<line x1="474.75" y1="82.3" x2="479.25" y2="82.3" stroke="#c83848" stroke-width="0.9"/>
<line x1="474.75" y1="102.5" x2="479.25" y2="102.5" stroke="#c83848" stroke-width="0.9"/>
<rect x="473.1" y="85" width="7.8" height="8" fill="#f07272" stroke="#c83848" stroke-width="0.9"/>
<line x1="473.1" y1="89.7" x2="480.9" y2="89.7" stroke="#c02030" stroke-width="1.2"/>
<line x1="490.5" y1="77.5" x2="490.5" y2="108.6" stroke="#3a5a98" stroke-width="0.9"/>
<line x1="488.25" y1="77.5" x2="492.75" y2="77.5" stroke="#3a5a98" stroke-width="0.9"/>
<line x1="488.25" y1="108.6" x2="492.75" y2="108.6" stroke="#3a5a98" stroke-width="0.9"/>
<rect x="486.6" y="84.7" width="7.8" height="11.599999999999994" fill="#5a78b0" stroke="#3a5a98" stroke-width="0.9"/>
<line x1="486.6" y1="93.7" x2="494.4" y2="93.7" stroke="#1a3a78" stroke-width="1.2"/>
<line x1="504" y1="78" x2="504" y2="102" stroke="#50b0e8" stroke-width="0.9"/>
<line x1="501.75" y1="78" x2="506.25" y2="78" stroke="#50b0e8" stroke-width="0.9"/>
<line x1="501.75" y1="102" x2="506.25" y2="102" stroke="#50b0e8" stroke-width="0.9"/>
<rect x="500.1" y="87" width="7.8" height="6.700000000000003" fill="#90ccf0" stroke="#50b0e8" stroke-width="0.9"/>
<line x1="500.1" y1="90" x2="507.9" y2="90" stroke="#3090d0" stroke-width="1.2"/>
<polyline points="449.50,70.00 449.50,61.90 483.70,61.90 483.70,70.00" fill="none" stroke="#282828" stroke-width="1.05"/>
<line x1="464.2" y1="70" x2="503.3" y2="70" stroke="#282828" stroke-width="1.05"/>
<text x="466.5" y="59.0" font-size="5" text-anchor="middle" font-weight="normal" font-style="normal" fill="#333" >ns</text>
<text x="7.6" y="187.5" font-size="11.6" text-anchor="start" font-weight="bold" font-style="normal" fill="#111" stroke="#111" stroke-width="0.55">E</text>
<text x="50.2" y="200.6" font-size="8.0" text-anchor="start" font-weight="normal" font-style="normal" fill="#222" textLength="86.8" lengthAdjust="spacingAndGlyphs" >Overall survival-All patients</text>
<line x1="35" y1="205.20000000000002" x2="35" y2="279.20000000000005" stroke="#2a2a2a" stroke-width="1.25"/>
<line x1="34.4" y1="278.6" x2="152.8" y2="278.6" stroke="#2a2a2a" stroke-width="1.25"/>
<line x1="32" y1="208.4" x2="35" y2="208.4" stroke="#2a2a2a" stroke-width="1"/>
<text x="28.8" y="210.20000000000002" font-size="5" text-anchor="end" font-weight="normal" font-style="normal" fill="#222" textLength="10.5" lengthAdjust="spacingAndGlyphs" >1.00</text>
<line x1="32" y1="225.0" x2="35" y2="225.0" stroke="#2a2a2a" stroke-width="1"/>
<text x="28.8" y="226.8" font-size="5" text-anchor="end" font-weight="normal" font-style="normal" fill="#222" textLength="10.5" lengthAdjust="spacingAndGlyphs" >0.75</text>
<line x1="32" y1="241.8" x2="35" y2="241.8" stroke="#2a2a2a" stroke-width="1"/>
<text x="28.8" y="243.60000000000002" font-size="5" text-anchor="end" font-weight="normal" font-style="normal" fill="#222" textLength="10.5" lengthAdjust="spacingAndGlyphs" >0.50</text>
<line x1="32" y1="258.6" x2="35" y2="258.6" stroke="#2a2a2a" stroke-width="1"/>
<text x="28.8" y="260.40000000000003" font-size="5" text-anchor="end" font-weight="normal" font-style="normal" fill="#222" textLength="10.5" lengthAdjust="spacingAndGlyphs" >0.25</text>
<line x1="32" y1="275.4" x2="35" y2="275.4" stroke="#2a2a2a" stroke-width="1"/>
<text x="28.8" y="277.2" font-size="5" text-anchor="end" font-weight="normal" font-style="normal" fill="#222" textLength="10.5" lengthAdjust="spacingAndGlyphs" >0.00</text>
<line x1="40.4" y1="278.6" x2="40.4" y2="281.6" stroke="#2a2a2a" stroke-width="1"/>
<text x="40.4" y="289.70000000000005" font-size="5" text-anchor="middle" font-weight="normal" font-style="normal" fill="#222" >0</text>
<line x1="67.2" y1="278.6" x2="67.2" y2="281.6" stroke="#2a2a2a" stroke-width="1"/>
<text x="67.2" y="289.70000000000005" font-size="5" text-anchor="middle" font-weight="normal" font-style="normal" fill="#222" >30</text>
<line x1="94" y1="278.6" x2="94" y2="281.6" stroke="#2a2a2a" stroke-width="1"/>
<text x="94" y="289.70000000000005" font-size="5" text-anchor="middle" font-weight="normal" font-style="normal" fill="#222" >60</text>
<line x1="120.8" y1="278.6" x2="120.8" y2="281.6" stroke="#2a2a2a" stroke-width="1"/>
<text x="120.8" y="289.70000000000005" font-size="5" text-anchor="middle" font-weight="normal" font-style="normal" fill="#222" >90</text>
<line x1="147.4" y1="278.6" x2="147.4" y2="281.6" stroke="#2a2a2a" stroke-width="1"/>
<text x="147.4" y="289.70000000000005" font-size="5" text-anchor="middle" font-weight="normal" font-style="normal" fill="#222" >120</text>
<text x="0" y="0" transform="translate(12.600000000000001,241.9) rotate(-90)" font-size="6.9" text-anchor="middle" font-weight="normal" fill="#1e1e1e" stroke="#1e1e1e" stroke-width="0.15" textLength="45" lengthAdjust="spacingAndGlyphs">Survival probability</text>
<text x="93.9" y="300.8" font-size="7.4" text-anchor="middle" font-weight="normal" font-style="normal" fill="#222" textLength="16.4" lengthAdjust="spacingAndGlyphs" stroke="#1e1e1e" stroke-width="0.18">Months</text>
<text x="96.9" y="214.7" font-size="5.6" fill="#222" textLength="39.6" lengthAdjust="spacingAndGlyphs"><tspan font-style="italic">DDX6</tspan> expression</text>
<line x1="96.9" y1="220.6" x2="106.9" y2="220.6" stroke="#4a6e94" stroke-width="0.9"/>
<text x="110.1" y="222.6" font-size="5.7" text-anchor="start" font-weight="normal" font-style="normal" fill="#222" textLength="11.2" lengthAdjust="spacingAndGlyphs" >High</text>
<line x1="96.9" y1="228.2" x2="106.9" y2="228.2" stroke="#d03c5e" stroke-width="0.9"/>
<text x="110.1" y="230.2" font-size="5.7" text-anchor="start" font-weight="normal" font-style="normal" fill="#222" textLength="9.6" lengthAdjust="spacingAndGlyphs" >Low</text>
<text x="126.8" y="274.4" font-size="6" fill="#222" textLength="18.2" lengthAdjust="spacingAndGlyphs"><tspan font-style="italic">P</tspan> = .15</text>
<polyline points="40.50,208.60 41.20,208.60 41.20,212.00 42.00,212.00 42.00,215.30 43.00,215.30 43.00,216.80 44.00,216.80 44.00,218.00 45.00,218.00 45.00,219.60 46.00,219.60 46.00,221.30 47.00,221.30 47.00,224.00 48.00,224.00 48.00,226.70 49.30,226.70 49.30,229.70 50.70,229.70 50.70,232.70 52.00,232.70 52.00,233.50 53.30,233.50 53.30,234.40 54.60,234.40 54.60,235.20 56.00,235.20 56.00,236.00 57.30,236.00 57.30,237.40 58.70,237.40 58.70,238.90 60.30,238.90 60.30,240.40 62.00,240.40 62.00,242.00 63.30,242.00 63.30,243.00 64.70,243.00 64.70,244.00 66.30,244.00 66.30,245.60 68.00,245.60 68.00,247.30 70.00,247.30 70.00,248.70 84.70,248.70 84.70,248.70 86.00,248.70 86.00,250.30 87.30,250.30 87.30,252.00 88.60,252.00 88.60,253.00 90.00,253.00 90.00,254.00 146.40,254.00 146.40,254.00" fill="none" stroke="#4a6e94" stroke-width="0.9"/>
<polyline points="40.50,208.60 41.60,208.60 41.60,213.00 42.70,213.00 42.70,217.30 43.70,217.30 43.70,220.60 44.70,220.60 44.70,224.00 45.30,224.00 45.30,228.00 46.00,228.00 46.00,232.00 46.60,232.00 46.60,237.00 47.30,237.00 47.30,242.00 49.30,242.00 49.30,244.00 53.30,244.00 53.30,244.70 56.00,244.70 56.00,246.70 58.00,246.70 58.00,248.30 62.70,248.30 62.70,249.30 66.00,249.30 66.00,250.00 69.30,250.00 69.30,250.70 72.00,250.70 72.00,251.30 80.70,251.30 80.70,251.30 82.00,251.30 82.00,256.00 90.00,256.00 90.00,256.00 90.70,256.00 90.70,258.70 115.40,258.70 115.40,258.70" fill="none" stroke="#d03c5e" stroke-width="0.9"/>
<line x1="92" y1="252.8" x2="92" y2="255.2" stroke="#222" stroke-width="0.8"/>
<line x1="97" y1="252.8" x2="97" y2="255.2" stroke="#222" stroke-width="0.8"/>
<line x1="103" y1="252.8" x2="103" y2="255.2" stroke="#222" stroke-width="0.8"/>
<line x1="108" y1="252.8" x2="108" y2="255.2" stroke="#222" stroke-width="0.8"/>
<line x1="117" y1="252.8" x2="117" y2="255.2" stroke="#222" stroke-width="0.8"/>
<line x1="122" y1="252.8" x2="122" y2="255.2" stroke="#222" stroke-width="0.8"/>
<line x1="128" y1="252.8" x2="128" y2="255.2" stroke="#222" stroke-width="0.8"/>
<line x1="133" y1="252.8" x2="133" y2="255.2" stroke="#222" stroke-width="0.8"/>
<line x1="146.4" y1="252.8" x2="146.4" y2="255.2" stroke="#222" stroke-width="0.8"/>
<line x1="72" y1="247.5" x2="72" y2="249.89999999999998" stroke="#222" stroke-width="0.8"/>
<line x1="76" y1="247.5" x2="76" y2="249.89999999999998" stroke="#222" stroke-width="0.8"/>
<line x1="80" y1="247.5" x2="80" y2="249.89999999999998" stroke="#222" stroke-width="0.8"/>
<line x1="94" y1="257.5" x2="94" y2="259.9" stroke="#222" stroke-width="0.8"/>
<line x1="99" y1="257.5" x2="99" y2="259.9" stroke="#222" stroke-width="0.8"/>
<line x1="104" y1="257.5" x2="104" y2="259.9" stroke="#222" stroke-width="0.8"/>
<line x1="110" y1="257.5" x2="110" y2="259.9" stroke="#222" stroke-width="0.8"/>
<line x1="115.4" y1="257.5" x2="115.4" y2="259.9" stroke="#222" stroke-width="0.8"/>
<line x1="61" y1="248.10000000000002" x2="61" y2="250.5" stroke="#222" stroke-width="0.8"/>
<text x="187.7" y="187.9" font-size="11.6" text-anchor="start" font-weight="bold" font-style="normal" fill="#111" stroke="#111" stroke-width="0.55">F</text>
<text x="218.2" y="200.5" font-size="8.0" text-anchor="start" font-weight="normal" font-style="normal" fill="#222" textLength="112.1" lengthAdjust="spacingAndGlyphs" >Overall survival-Complex karyotype</text>
<line x1="215.4" y1="205.20000000000002" x2="215.4" y2="279.20000000000005" stroke="#2a2a2a" stroke-width="1.25"/>
<line x1="214.8" y1="278.6" x2="332.59999999999997" y2="278.6" stroke="#2a2a2a" stroke-width="1.25"/>
<line x1="212.4" y1="208.4" x2="215.4" y2="208.4" stroke="#2a2a2a" stroke-width="1"/>
<text x="209.20000000000002" y="210.20000000000002" font-size="5" text-anchor="end" font-weight="normal" font-style="normal" fill="#222" textLength="10.5" lengthAdjust="spacingAndGlyphs" >1.00</text>
<line x1="212.4" y1="225.0" x2="215.4" y2="225.0" stroke="#2a2a2a" stroke-width="1"/>
<text x="209.20000000000002" y="226.8" font-size="5" text-anchor="end" font-weight="normal" font-style="normal" fill="#222" textLength="10.5" lengthAdjust="spacingAndGlyphs" >0.75</text>
<line x1="212.4" y1="241.8" x2="215.4" y2="241.8" stroke="#2a2a2a" stroke-width="1"/>
<text x="209.20000000000002" y="243.60000000000002" font-size="5" text-anchor="end" font-weight="normal" font-style="normal" fill="#222" textLength="10.5" lengthAdjust="spacingAndGlyphs" >0.50</text>
<line x1="212.4" y1="258.6" x2="215.4" y2="258.6" stroke="#2a2a2a" stroke-width="1"/>
<text x="209.20000000000002" y="260.40000000000003" font-size="5" text-anchor="end" font-weight="normal" font-style="normal" fill="#222" textLength="10.5" lengthAdjust="spacingAndGlyphs" >0.25</text>
<line x1="212.4" y1="275.4" x2="215.4" y2="275.4" stroke="#2a2a2a" stroke-width="1"/>
<text x="209.20000000000002" y="277.2" font-size="5" text-anchor="end" font-weight="normal" font-style="normal" fill="#222" textLength="10.5" lengthAdjust="spacingAndGlyphs" >0.00</text>
<line x1="220.5" y1="278.6" x2="220.5" y2="281.6" stroke="#2a2a2a" stroke-width="1"/>
<text x="220.5" y="289.70000000000005" font-size="5" text-anchor="middle" font-weight="normal" font-style="normal" fill="#222" >0</text>
<line x1="247.4" y1="278.6" x2="247.4" y2="281.6" stroke="#2a2a2a" stroke-width="1"/>
<text x="247.4" y="289.70000000000005" font-size="5" text-anchor="middle" font-weight="normal" font-style="normal" fill="#222" >20</text>
<line x1="274.2" y1="278.6" x2="274.2" y2="281.6" stroke="#2a2a2a" stroke-width="1"/>
<text x="274.2" y="289.70000000000005" font-size="5" text-anchor="middle" font-weight="normal" font-style="normal" fill="#222" >40</text>
<line x1="300.9" y1="278.6" x2="300.9" y2="281.6" stroke="#2a2a2a" stroke-width="1"/>
<text x="300.9" y="289.70000000000005" font-size="5" text-anchor="middle" font-weight="normal" font-style="normal" fill="#222" >60</text>
<line x1="327.2" y1="278.6" x2="327.2" y2="281.6" stroke="#2a2a2a" stroke-width="1"/>
<text x="327.2" y="289.70000000000005" font-size="5" text-anchor="middle" font-weight="normal" font-style="normal" fill="#222" >80</text>
<text x="0" y="0" transform="translate(191.3,241.9) rotate(-90)" font-size="6.9" text-anchor="middle" font-weight="normal" fill="#1e1e1e" stroke="#1e1e1e" stroke-width="0.15" textLength="45" lengthAdjust="spacingAndGlyphs">Survival probability</text>
<text x="274.2" y="300.8" font-size="7.4" text-anchor="middle" font-weight="normal" font-style="normal" fill="#222" textLength="16.4" lengthAdjust="spacingAndGlyphs" stroke="#1e1e1e" stroke-width="0.18">Months</text>
<text x="276" y="215.3" font-size="5.6" fill="#222" textLength="41.5" lengthAdjust="spacingAndGlyphs"><tspan font-style="italic">DDX6</tspan> expression</text>
<line x1="276" y1="220.6" x2="286" y2="220.6" stroke="#4a6e94" stroke-width="0.9"/>
<text x="289.6" y="222.6" font-size="5.7" text-anchor="start" font-weight="normal" font-style="normal" fill="#222" textLength="11.2" lengthAdjust="spacingAndGlyphs" >High</text>
<line x1="276" y1="228.2" x2="286" y2="228.2" stroke="#d03c5e" stroke-width="0.9"/>
<text x="289.6" y="230.2" font-size="5.7" text-anchor="start" font-weight="normal" font-style="normal" fill="#222" textLength="9.6" lengthAdjust="spacingAndGlyphs" >Low</text>
<text x="304.7" y="274.3" font-size="6" fill="#222" textLength="21.4" lengthAdjust="spacingAndGlyphs"><tspan font-style="italic">P</tspan> = .088</text>
<polyline points="220.50,208.50 220.50,208.50 220.50,217.90 224.70,217.90 224.70,227.40 227.90,227.40 227.90,237.40 243.60,237.40 243.60,246.20 322.70,246.20 322.70,246.20" fill="none" stroke="#4a6e94" stroke-width="0.9"/>
<polyline points="220.50,208.50 221.00,208.50 221.00,218.00 221.70,218.00 221.70,226.40 222.30,226.40 222.30,244.90 225.10,244.90 225.10,251.00 231.10,251.00 231.10,256.60 232.60,256.60 232.60,260.40 233.60,260.40 233.60,269.40 260.60,269.40 260.60,269.40" fill="none" stroke="#d03c5e" stroke-width="0.9"/>
<line x1="255.3" y1="245.0" x2="255.3" y2="247.39999999999998" stroke="#222" stroke-width="0.8"/>
<line x1="281.7" y1="245.0" x2="281.7" y2="247.39999999999998" stroke="#222" stroke-width="0.8"/>
<line x1="322.7" y1="245.0" x2="322.7" y2="247.39999999999998" stroke="#222" stroke-width="0.8"/>
<line x1="260.6" y1="268.2" x2="260.6" y2="270.59999999999997" stroke="#222" stroke-width="0.8"/>
<text x="367.7" y="187.9" font-size="11.6" text-anchor="start" font-weight="bold" font-style="normal" fill="#111" stroke="#111" stroke-width="0.55">G</text>
<text x="429.3" y="191.89999999999998" font-size="8.0" text-anchor="start" font-weight="normal" font-style="normal" fill="#222" textLength="50.9" lengthAdjust="spacingAndGlyphs" >Overall survival-</text>
<text x="411" y="200.5" font-size="8.0" text-anchor="start" font-weight="normal" font-style="normal" fill="#222" textLength="88.2" lengthAdjust="spacingAndGlyphs" >Normal karyotype-CN-AML</text>
<line x1="395.6" y1="205.20000000000002" x2="395.6" y2="279.20000000000005" stroke="#2a2a2a" stroke-width="1.25"/>
<line x1="395.0" y1="278.6" x2="512.0" y2="278.6" stroke="#2a2a2a" stroke-width="1.25"/>
<line x1="392.6" y1="208.4" x2="395.6" y2="208.4" stroke="#2a2a2a" stroke-width="1"/>
<text x="389.40000000000003" y="210.20000000000002" font-size="5" text-anchor="end" font-weight="normal" font-style="normal" fill="#222" textLength="10.5" lengthAdjust="spacingAndGlyphs" >1.00</text>
<line x1="392.6" y1="225.0" x2="395.6" y2="225.0" stroke="#2a2a2a" stroke-width="1"/>
<text x="389.40000000000003" y="226.8" font-size="5" text-anchor="end" font-weight="normal" font-style="normal" fill="#222" textLength="10.5" lengthAdjust="spacingAndGlyphs" >0.75</text>
<line x1="392.6" y1="241.8" x2="395.6" y2="241.8" stroke="#2a2a2a" stroke-width="1"/>
<text x="389.40000000000003" y="243.60000000000002" font-size="5" text-anchor="end" font-weight="normal" font-style="normal" fill="#222" textLength="10.5" lengthAdjust="spacingAndGlyphs" >0.50</text>
<line x1="392.6" y1="258.6" x2="395.6" y2="258.6" stroke="#2a2a2a" stroke-width="1"/>
<text x="389.40000000000003" y="260.40000000000003" font-size="5" text-anchor="end" font-weight="normal" font-style="normal" fill="#222" textLength="10.5" lengthAdjust="spacingAndGlyphs" >0.25</text>
<line x1="392.6" y1="275.4" x2="395.6" y2="275.4" stroke="#2a2a2a" stroke-width="1"/>
<text x="389.40000000000003" y="277.2" font-size="5" text-anchor="end" font-weight="normal" font-style="normal" fill="#222" textLength="10.5" lengthAdjust="spacingAndGlyphs" >0.00</text>
<line x1="400.5" y1="278.6" x2="400.5" y2="281.6" stroke="#2a2a2a" stroke-width="1"/>
<text x="400.5" y="289.70000000000005" font-size="5" text-anchor="middle" font-weight="normal" font-style="normal" fill="#222" >0</text>
<line x1="427.5" y1="278.6" x2="427.5" y2="281.6" stroke="#2a2a2a" stroke-width="1"/>
<text x="427.5" y="289.70000000000005" font-size="5" text-anchor="middle" font-weight="normal" font-style="normal" fill="#222" >20</text>
<line x1="454.3" y1="278.6" x2="454.3" y2="281.6" stroke="#2a2a2a" stroke-width="1"/>
<text x="454.3" y="289.70000000000005" font-size="5" text-anchor="middle" font-weight="normal" font-style="normal" fill="#222" >40</text>
<line x1="480.2" y1="278.6" x2="480.2" y2="281.6" stroke="#2a2a2a" stroke-width="1"/>
<text x="480.2" y="289.70000000000005" font-size="5" text-anchor="middle" font-weight="normal" font-style="normal" fill="#222" >60</text>
<line x1="506.6" y1="278.6" x2="506.6" y2="281.6" stroke="#2a2a2a" stroke-width="1"/>
<text x="506.6" y="289.70000000000005" font-size="5" text-anchor="middle" font-weight="normal" font-style="normal" fill="#222" >80</text>
<text x="0" y="0" transform="translate(371.3,241.9) rotate(-90)" font-size="6.9" text-anchor="middle" font-weight="normal" fill="#1e1e1e" stroke="#1e1e1e" stroke-width="0.15" textLength="45" lengthAdjust="spacingAndGlyphs">Survival probability</text>
<text x="454.3" y="300.8" font-size="7.4" text-anchor="middle" font-weight="normal" font-style="normal" fill="#222" textLength="16.4" lengthAdjust="spacingAndGlyphs" stroke="#1e1e1e" stroke-width="0.18">Months</text>
<text x="457.3" y="214.5" font-size="5.6" fill="#222" textLength="40" lengthAdjust="spacingAndGlyphs"><tspan font-style="italic">DDX6</tspan> expression</text>
<line x1="457.3" y1="221.1" x2="467.3" y2="221.1" stroke="#4a6e94" stroke-width="0.9"/>
<text x="469.7" y="223.1" font-size="5.7" text-anchor="start" font-weight="normal" font-style="normal" fill="#222" textLength="11.2" lengthAdjust="spacingAndGlyphs" >High</text>
<line x1="457.3" y1="228.4" x2="467.3" y2="228.4" stroke="#d03c5e" stroke-width="0.9"/>
<text x="469.7" y="230.4" font-size="5.7" text-anchor="start" font-weight="normal" font-style="normal" fill="#222" textLength="9.6" lengthAdjust="spacingAndGlyphs" >Low</text>
<text x="488.6" y="274" font-size="6" fill="#222" textLength="17.4" lengthAdjust="spacingAndGlyphs"><tspan font-style="italic">P</tspan> = .14</text>
<polyline points="400.50,208.50 404.20,208.50 404.20,210.40 407.00,210.40 407.00,213.20 408.90,213.20 408.90,218.00 413.60,218.00 413.60,218.90 414.50,218.90 414.50,226.40 415.50,226.40 415.50,233.00 416.40,233.00 416.40,237.70 421.70,237.70 421.70,238.70 423.00,238.70 423.00,243.40 425.80,243.40 425.80,247.20 427.70,247.20 427.70,250.00 428.70,250.00 428.70,253.80 432.50,253.80 432.50,254.70 435.30,254.70 435.30,256.60 438.10,256.60 438.10,259.40 439.40,259.40 439.40,262.00 463.30,262.00 463.30,265.10 473.30,265.10 473.30,267.10 500.00,267.10 500.00,267.10" fill="none" stroke="#4a6e94" stroke-width="0.9"/>
<polyline points="400.50,208.50 400.50,208.50 400.50,214.20 404.20,214.20 404.20,217.00 408.90,217.00 408.90,218.90 410.40,218.90 410.40,220.80 411.10,220.80 411.10,226.40 412.30,226.40 412.30,233.00 424.00,233.00 424.00,234.90 425.80,234.90 425.80,237.40 433.40,237.40 433.40,237.40 435.30,237.40 435.30,240.60 440.90,240.60 440.90,243.80 445.70,243.80 445.70,245.30 446.60,245.30 446.60,247.80 476.00,247.80 476.00,254.60 511.10,254.60 511.10,254.60" fill="none" stroke="#d03c5e" stroke-width="0.9"/>
<line x1="491.7" y1="265.90000000000003" x2="491.7" y2="268.3" stroke="#222" stroke-width="0.8"/>
<line x1="495.8" y1="265.90000000000003" x2="495.8" y2="268.3" stroke="#222" stroke-width="0.8"/>
<line x1="498" y1="265.90000000000003" x2="498" y2="268.3" stroke="#222" stroke-width="0.8"/>
<line x1="500" y1="265.90000000000003" x2="500" y2="268.3" stroke="#222" stroke-width="0.8"/>
<line x1="436.2" y1="239.4" x2="436.2" y2="241.79999999999998" stroke="#222" stroke-width="0.8"/>
<line x1="457.1" y1="246.60000000000002" x2="457.1" y2="249.0" stroke="#222" stroke-width="0.8"/>
<line x1="460.3" y1="246.60000000000002" x2="460.3" y2="249.0" stroke="#222" stroke-width="0.8"/>
<line x1="463.3" y1="246.60000000000002" x2="463.3" y2="249.0" stroke="#222" stroke-width="0.8"/>
<line x1="498.8" y1="253.4" x2="498.8" y2="255.79999999999998" stroke="#222" stroke-width="0.8"/>
<line x1="503.3" y1="253.4" x2="503.3" y2="255.79999999999998" stroke="#222" stroke-width="0.8"/>
<line x1="510.4" y1="253.4" x2="510.4" y2="255.79999999999998" stroke="#222" stroke-width="0.8"/>
<text x="6.9" y="328.1" font-size="11.6" text-anchor="start" font-weight="bold" font-style="normal" fill="#111" stroke="#111" stroke-width="0.55">H</text>
<text x="42" y="341.09999999999997" font-size="8.0" text-anchor="start" font-weight="normal" font-style="normal" fill="#222" textLength="106.1" lengthAdjust="spacingAndGlyphs" >Overall survival-CN AML-NPM1</text>
<line x1="35.6" y1="346.2" x2="35.6" y2="420.0" stroke="#2a2a2a" stroke-width="1.25"/>
<line x1="35.0" y1="419.4" x2="153.20000000000002" y2="419.4" stroke="#2a2a2a" stroke-width="1.25"/>
<line x1="32.6" y1="349.4" x2="35.6" y2="349.4" stroke="#2a2a2a" stroke-width="1"/>
<text x="29.400000000000002" y="351.2" font-size="5" text-anchor="end" font-weight="normal" font-style="normal" fill="#222" textLength="10.5" lengthAdjust="spacingAndGlyphs" >1.00</text>
<line x1="32.6" y1="366.1" x2="35.6" y2="366.1" stroke="#2a2a2a" stroke-width="1"/>
<text x="29.400000000000002" y="367.90000000000003" font-size="5" text-anchor="end" font-weight="normal" font-style="normal" fill="#222" textLength="10.5" lengthAdjust="spacingAndGlyphs" >0.75</text>
<line x1="32.6" y1="382.8" x2="35.6" y2="382.8" stroke="#2a2a2a" stroke-width="1"/>
<text x="29.400000000000002" y="384.6" font-size="5" text-anchor="end" font-weight="normal" font-style="normal" fill="#222" textLength="10.5" lengthAdjust="spacingAndGlyphs" >0.50</text>
<line x1="32.6" y1="399.6" x2="35.6" y2="399.6" stroke="#2a2a2a" stroke-width="1"/>
<text x="29.400000000000002" y="401.40000000000003" font-size="5" text-anchor="end" font-weight="normal" font-style="normal" fill="#222" textLength="10.5" lengthAdjust="spacingAndGlyphs" >0.25</text>
<line x1="32.6" y1="416.4" x2="35.6" y2="416.4" stroke="#2a2a2a" stroke-width="1"/>
<text x="29.400000000000002" y="418.2" font-size="5" text-anchor="end" font-weight="normal" font-style="normal" fill="#222" textLength="10.5" lengthAdjust="spacingAndGlyphs" >0.00</text>
<line x1="40.2" y1="419.4" x2="40.2" y2="422.4" stroke="#2a2a2a" stroke-width="1"/>
<text x="40.2" y="430.5" font-size="5" text-anchor="middle" font-weight="normal" font-style="normal" fill="#222" >0</text>
<line x1="67.4" y1="419.4" x2="67.4" y2="422.4" stroke="#2a2a2a" stroke-width="1"/>
<text x="67.4" y="430.5" font-size="5" text-anchor="middle" font-weight="normal" font-style="normal" fill="#222" >20</text>
<line x1="94.6" y1="419.4" x2="94.6" y2="422.4" stroke="#2a2a2a" stroke-width="1"/>
<text x="94.6" y="430.5" font-size="5" text-anchor="middle" font-weight="normal" font-style="normal" fill="#222" >40</text>
<line x1="121.8" y1="419.4" x2="121.8" y2="422.4" stroke="#2a2a2a" stroke-width="1"/>
<text x="121.8" y="430.5" font-size="5" text-anchor="middle" font-weight="normal" font-style="normal" fill="#222" >60</text>
<line x1="147.8" y1="419.4" x2="147.8" y2="422.4" stroke="#2a2a2a" stroke-width="1"/>
<text x="147.8" y="430.5" font-size="5" text-anchor="middle" font-weight="normal" font-style="normal" fill="#222" >80</text>
<text x="0" y="0" transform="translate(11.8,383.5) rotate(-90)" font-size="6.9" text-anchor="middle" font-weight="normal" fill="#1e1e1e" stroke="#1e1e1e" stroke-width="0.15" textLength="45" lengthAdjust="spacingAndGlyphs">Survival probability</text>
<text x="94.6" y="441.59999999999997" font-size="7.4" text-anchor="middle" font-weight="normal" font-style="normal" fill="#222" textLength="16.4" lengthAdjust="spacingAndGlyphs" stroke="#1e1e1e" stroke-width="0.18">Months</text>
<text x="106.3" y="349.2" font-size="5.6" fill="#222" textLength="41.2" lengthAdjust="spacingAndGlyphs"><tspan font-style="italic">DDX6</tspan> expression</text>
<line x1="106.3" y1="354.4" x2="116.3" y2="354.4" stroke="#4a6e94" stroke-width="0.9"/>
<text x="119.5" y="356.4" font-size="5.7" text-anchor="start" font-weight="normal" font-style="normal" fill="#222" textLength="11.2" lengthAdjust="spacingAndGlyphs" >High</text>
<line x1="106.3" y1="362" x2="116.3" y2="362" stroke="#d03c5e" stroke-width="0.9"/>
<text x="119.5" y="364" font-size="5.7" text-anchor="start" font-weight="normal" font-style="normal" fill="#222" textLength="9.6" lengthAdjust="spacingAndGlyphs" >Low</text>
<text x="122.5" y="415.6" font-size="6" fill="#222" textLength="23" lengthAdjust="spacingAndGlyphs"><tspan font-style="italic">P</tspan> = .043</text>
<polyline points="40.20,349.50 41.25,349.50 41.25,351.25 43.75,351.25 43.75,356.25 48.75,356.25 48.75,357.50 49.50,357.50 49.50,365.00 51.25,365.00 51.25,371.25 53.75,371.25 53.75,377.50 55.00,377.50 55.00,383.00 57.00,383.00 57.00,385.00 62.50,385.00 62.50,386.25 67.50,386.25 67.50,388.75 71.25,388.75 71.25,389.50 72.00,389.50 72.00,392.50 73.75,392.50 73.75,395.00 80.00,395.00 80.00,399.50 112.00,399.50 112.00,405.00 144.50,405.00 144.50,405.00" fill="none" stroke="#4a6e94" stroke-width="0.9"/>
<polyline points="40.20,349.50 50.00,349.50 50.00,357.50 63.25,357.50 63.25,365.90 115.40,365.90 115.40,391.30 150.50,391.30 150.50,391.30" fill="none" stroke="#d03c5e" stroke-width="0.9"/>
<line x1="76.25" y1="364.7" x2="76.25" y2="367.09999999999997" stroke="#222" stroke-width="0.8"/>
<line x1="96.25" y1="364.7" x2="96.25" y2="367.09999999999997" stroke="#222" stroke-width="0.8"/>
<line x1="150" y1="390.1" x2="150" y2="392.5" stroke="#222" stroke-width="0.8"/>
<line x1="94" y1="398.3" x2="94" y2="400.7" stroke="#222" stroke-width="0.8"/>
<line x1="136" y1="403.8" x2="136" y2="406.2" stroke="#222" stroke-width="0.8"/>
<line x1="144.5" y1="403.8" x2="144.5" y2="406.2" stroke="#222" stroke-width="0.8"/>
<text x="190" y="328.1" font-size="11.6" text-anchor="start" font-weight="bold" font-style="normal" fill="#111" stroke="#111" stroke-width="0.55">I</text>
<text x="218.8" y="341.09999999999997" font-size="8.0" text-anchor="start" font-weight="normal" font-style="normal" fill="#222" textLength="111.1" lengthAdjust="spacingAndGlyphs" >Overall survival-CN AML-FLT3-IDT</text>
<line x1="215.4" y1="346.2" x2="215.4" y2="420.0" stroke="#2a2a2a" stroke-width="1.25"/>
<line x1="214.8" y1="419.4" x2="333.2" y2="419.4" stroke="#2a2a2a" stroke-width="1.25"/>
<line x1="212.4" y1="349.4" x2="215.4" y2="349.4" stroke="#2a2a2a" stroke-width="1"/>
<text x="209.20000000000002" y="351.2" font-size="5" text-anchor="end" font-weight="normal" font-style="normal" fill="#222" textLength="10.5" lengthAdjust="spacingAndGlyphs" >1.00</text>
<line x1="212.4" y1="366.1" x2="215.4" y2="366.1" stroke="#2a2a2a" stroke-width="1"/>
<text x="209.20000000000002" y="367.90000000000003" font-size="5" text-anchor="end" font-weight="normal" font-style="normal" fill="#222" textLength="10.5" lengthAdjust="spacingAndGlyphs" >0.75</text>
<line x1="212.4" y1="382.8" x2="215.4" y2="382.8" stroke="#2a2a2a" stroke-width="1"/>
<text x="209.20000000000002" y="384.6" font-size="5" text-anchor="end" font-weight="normal" font-style="normal" fill="#222" textLength="10.5" lengthAdjust="spacingAndGlyphs" >0.50</text>
<line x1="212.4" y1="399.6" x2="215.4" y2="399.6" stroke="#2a2a2a" stroke-width="1"/>
<text x="209.20000000000002" y="401.40000000000003" font-size="5" text-anchor="end" font-weight="normal" font-style="normal" fill="#222" textLength="10.5" lengthAdjust="spacingAndGlyphs" >0.25</text>
<line x1="212.4" y1="416.4" x2="215.4" y2="416.4" stroke="#2a2a2a" stroke-width="1"/>
<text x="209.20000000000002" y="418.2" font-size="5" text-anchor="end" font-weight="normal" font-style="normal" fill="#222" textLength="10.5" lengthAdjust="spacingAndGlyphs" >0.00</text>
<line x1="220.2" y1="419.4" x2="220.2" y2="422.4" stroke="#2a2a2a" stroke-width="1"/>
<text x="220.2" y="430.5" font-size="5" text-anchor="middle" font-weight="normal" font-style="normal" fill="#222" >0</text>
<line x1="247.2" y1="419.4" x2="247.2" y2="422.4" stroke="#2a2a2a" stroke-width="1"/>
<text x="247.2" y="430.5" font-size="5" text-anchor="middle" font-weight="normal" font-style="normal" fill="#222" >10</text>
<line x1="274.4" y1="419.4" x2="274.4" y2="422.4" stroke="#2a2a2a" stroke-width="1"/>
<text x="274.4" y="430.5" font-size="5" text-anchor="middle" font-weight="normal" font-style="normal" fill="#222" >20</text>
<line x1="301.3" y1="419.4" x2="301.3" y2="422.4" stroke="#2a2a2a" stroke-width="1"/>
<text x="301.3" y="430.5" font-size="5" text-anchor="middle" font-weight="normal" font-style="normal" fill="#222" >30</text>
<line x1="327.8" y1="419.4" x2="327.8" y2="422.4" stroke="#2a2a2a" stroke-width="1"/>
<text x="327.8" y="430.5" font-size="5" text-anchor="middle" font-weight="normal" font-style="normal" fill="#222" >40</text>
<text x="0" y="0" transform="translate(190.8,383.5) rotate(-90)" font-size="6.9" text-anchor="middle" font-weight="normal" fill="#1e1e1e" stroke="#1e1e1e" stroke-width="0.15" textLength="45" lengthAdjust="spacingAndGlyphs">Survival probability</text>
<text x="274.3" y="441.59999999999997" font-size="7.4" text-anchor="middle" font-weight="normal" font-style="normal" fill="#222" textLength="16.4" lengthAdjust="spacingAndGlyphs" stroke="#1e1e1e" stroke-width="0.18">Months</text>
<text x="286.3" y="353" font-size="5.6" fill="#222" textLength="41.2" lengthAdjust="spacingAndGlyphs"><tspan font-style="italic">DDX6</tspan> expression</text>
<line x1="286.3" y1="358.75" x2="296.3" y2="358.75" stroke="#4a6e94" stroke-width="0.9"/>
<text x="299.55" y="360.75" font-size="5.7" text-anchor="start" font-weight="normal" font-style="normal" fill="#222" textLength="11.2" lengthAdjust="spacingAndGlyphs" >High</text>
<line x1="286.3" y1="365.75" x2="296.3" y2="365.75" stroke="#d03c5e" stroke-width="0.9"/>
<text x="299.55" y="367.75" font-size="5.7" text-anchor="start" font-weight="normal" font-style="normal" fill="#222" textLength="9.6" lengthAdjust="spacingAndGlyphs" >Low</text>
<text x="307" y="415.6" font-size="6" fill="#222" textLength="18" lengthAdjust="spacingAndGlyphs"><tspan font-style="italic">P</tspan> = .14</text>
<polyline points="220.50,349.70 228.80,349.70 228.80,360.00 238.80,360.00 238.80,372.00 249.30,372.00 249.30,379.20 250.00,379.20 250.00,383.30 251.00,383.30 251.00,393.30 251.30,393.30 251.30,405.30 275.50,405.30 275.50,416.40" fill="none" stroke="#4a6e94" stroke-width="0.9"/>
<polyline points="220.50,349.70 220.50,349.70 220.50,352.50 221.70,352.50 221.70,355.30 222.70,355.30 222.70,360.30 238.80,360.30 238.80,361.70 239.70,361.70 239.70,366.30 241.30,366.30 241.30,368.30 242.20,368.30 242.20,379.20 266.30,379.20 266.30,385.30 301.25,385.30 301.25,395.50 332.00,395.50 332.00,395.50" fill="none" stroke="#d03c5e" stroke-width="0.9"/>
<line x1="281.5" y1="384.1" x2="281.5" y2="386.5" stroke="#222" stroke-width="0.8"/>
<line x1="293.6" y1="384.1" x2="293.6" y2="386.5" stroke="#222" stroke-width="0.8"/>
<line x1="331" y1="394.3" x2="331" y2="396.7" stroke="#222" stroke-width="0.8"/>
<text x="367.9" y="328.1" font-size="11.6" text-anchor="start" font-weight="bold" font-style="normal" fill="#111" stroke="#111" stroke-width="0.55">J</text>
<text x="398.2" y="341.09999999999997" font-size="8.0" text-anchor="start" font-weight="normal" font-style="normal" fill="#222" textLength="112.4" lengthAdjust="spacingAndGlyphs" >Overall survival-CN AML-DNMT3A</text>
<line x1="395.6" y1="346.2" x2="395.6" y2="420.0" stroke="#2a2a2a" stroke-width="1.25"/>
<line x1="395.0" y1="419.4" x2="512.9" y2="419.4" stroke="#2a2a2a" stroke-width="1.25"/>
<line x1="392.6" y1="349.4" x2="395.6" y2="349.4" stroke="#2a2a2a" stroke-width="1"/>
<text x="389.40000000000003" y="351.2" font-size="5" text-anchor="end" font-weight="normal" font-style="normal" fill="#222" textLength="10.5" lengthAdjust="spacingAndGlyphs" >1.00</text>
<line x1="392.6" y1="366.1" x2="395.6" y2="366.1" stroke="#2a2a2a" stroke-width="1"/>
<text x="389.40000000000003" y="367.90000000000003" font-size="5" text-anchor="end" font-weight="normal" font-style="normal" fill="#222" textLength="10.5" lengthAdjust="spacingAndGlyphs" >0.75</text>
<line x1="392.6" y1="382.8" x2="395.6" y2="382.8" stroke="#2a2a2a" stroke-width="1"/>
<text x="389.40000000000003" y="384.6" font-size="5" text-anchor="end" font-weight="normal" font-style="normal" fill="#222" textLength="10.5" lengthAdjust="spacingAndGlyphs" >0.50</text>
<line x1="392.6" y1="399.6" x2="395.6" y2="399.6" stroke="#2a2a2a" stroke-width="1"/>
<text x="389.40000000000003" y="401.40000000000003" font-size="5" text-anchor="end" font-weight="normal" font-style="normal" fill="#222" textLength="10.5" lengthAdjust="spacingAndGlyphs" >0.25</text>
<line x1="392.6" y1="416.4" x2="395.6" y2="416.4" stroke="#2a2a2a" stroke-width="1"/>
<text x="389.40000000000003" y="418.2" font-size="5" text-anchor="end" font-weight="normal" font-style="normal" fill="#222" textLength="10.5" lengthAdjust="spacingAndGlyphs" >0.00</text>
<line x1="400.2" y1="419.4" x2="400.2" y2="422.4" stroke="#2a2a2a" stroke-width="1"/>
<text x="400.2" y="430.5" font-size="5" text-anchor="middle" font-weight="normal" font-style="normal" fill="#222" >0</text>
<line x1="427.5" y1="419.4" x2="427.5" y2="422.4" stroke="#2a2a2a" stroke-width="1"/>
<text x="427.5" y="430.5" font-size="5" text-anchor="middle" font-weight="normal" font-style="normal" fill="#222" >10</text>
<line x1="454.5" y1="419.4" x2="454.5" y2="422.4" stroke="#2a2a2a" stroke-width="1"/>
<text x="454.5" y="430.5" font-size="5" text-anchor="middle" font-weight="normal" font-style="normal" fill="#222" >20</text>
<line x1="481.3" y1="419.4" x2="481.3" y2="422.4" stroke="#2a2a2a" stroke-width="1"/>
<text x="481.3" y="430.5" font-size="5" text-anchor="middle" font-weight="normal" font-style="normal" fill="#222" >30</text>
<line x1="507.5" y1="419.4" x2="507.5" y2="422.4" stroke="#2a2a2a" stroke-width="1"/>
<text x="507.5" y="430.5" font-size="5" text-anchor="middle" font-weight="normal" font-style="normal" fill="#222" >40</text>
<text x="0" y="0" transform="translate(370.3,383.5) rotate(-90)" font-size="6.9" text-anchor="middle" font-weight="normal" fill="#1e1e1e" stroke="#1e1e1e" stroke-width="0.15" textLength="45" lengthAdjust="spacingAndGlyphs">Survival probability</text>
<text x="454.5" y="441.59999999999997" font-size="7.4" text-anchor="middle" font-weight="normal" font-style="normal" fill="#222" textLength="16.4" lengthAdjust="spacingAndGlyphs" stroke="#1e1e1e" stroke-width="0.18">Months</text>
<text x="466.3" y="353" font-size="5.6" fill="#222" textLength="41.2" lengthAdjust="spacingAndGlyphs"><tspan font-style="italic">DDX6</tspan> expression</text>
<line x1="466.3" y1="358.75" x2="476.3" y2="358.75" stroke="#4a6e94" stroke-width="0.9"/>
<text x="479.55" y="360.75" font-size="5.7" text-anchor="start" font-weight="normal" font-style="normal" fill="#222" textLength="11.2" lengthAdjust="spacingAndGlyphs" >High</text>
<line x1="466.3" y1="365.75" x2="476.3" y2="365.75" stroke="#d03c5e" stroke-width="0.9"/>
<text x="479.55" y="367.75" font-size="5.7" text-anchor="start" font-weight="normal" font-style="normal" fill="#222" textLength="9.6" lengthAdjust="spacingAndGlyphs" >Low</text>
<text x="487" y="415.6" font-size="6" fill="#222" textLength="18" lengthAdjust="spacingAndGlyphs"><tspan font-style="italic">P</tspan> = .17</text>
<polyline points="400.60,349.60 408.80,349.60 408.80,356.30 414.70,356.30 414.70,361.30 416.00,361.30 416.00,365.00 417.70,365.00 417.70,369.70 427.70,369.70 427.70,375.80 428.50,375.80 428.50,385.00 428.80,385.00 428.80,389.20 431.30,389.20 431.30,396.70 444.30,396.70 444.30,409.20 477.00,409.20 477.00,416.00" fill="none" stroke="#4a6e94" stroke-width="0.9"/>
<polyline points="400.60,349.60 400.90,349.60 400.90,354.20 402.20,354.20 402.20,359.20 421.30,359.20 421.30,360.80 422.20,360.80 422.20,379.20 423.00,379.20 423.00,385.00 467.50,385.00 467.50,390.50 491.25,390.50 491.25,403.00 512.50,403.00 512.50,403.00" fill="none" stroke="#d03c5e" stroke-width="0.9"/>
<line x1="419" y1="358.0" x2="419" y2="360.4" stroke="#222" stroke-width="0.8"/>
<line x1="473" y1="389.3" x2="473" y2="391.7" stroke="#222" stroke-width="0.8"/>
<line x1="489" y1="389.3" x2="489" y2="391.7" stroke="#222" stroke-width="0.8"/>
<rect x="0.5" y="0.5" width="519" height="449" fill="none" stroke="#555" stroke-width="1"/>
</svg></body></html>
